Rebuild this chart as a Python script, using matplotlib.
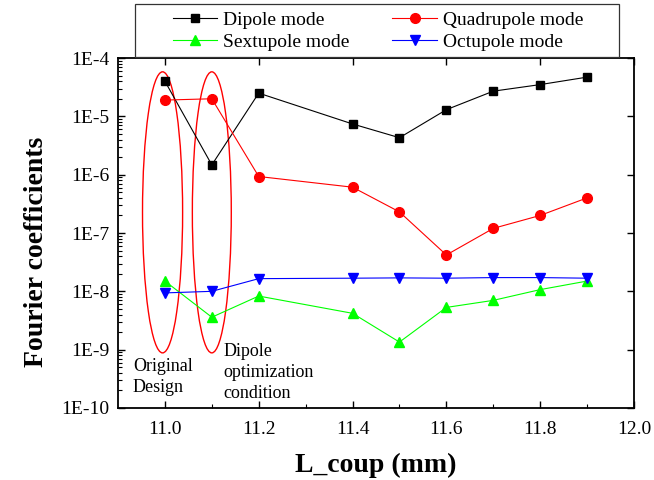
import numpy as np
import matplotlib
matplotlib.use("Agg")
from matplotlib import pyplot as plt
from matplotlib.patches import Ellipse, Rectangle
from matplotlib.transforms import blended_transform_factory

plt.rcParams['font.family'] = ['Liberation Serif', 'DejaVu Serif']

# L_coup (mm)
l_coup = [11.0, 11.1, 11.2, 11.4, 11.5, 11.6, 11.7, 11.8, 11.9]

# Fourier coefficients per mode
dipolo = [4.0e-5, 1.47e-6, 2.5e-5, 7.4e-6, 4.3e-6, 1.3e-5, 2.7e-5, 3.5e-5, 4.7e-5]
cuadrupolo = [1.9e-5, 2.0e-5, 9.3e-7, 6.1e-7, 2.3e-7, 4.2e-8, 1.2e-7, 2.0e-7, 4.0e-7]
sextupolo = [1.5e-8, 3.6e-9, 8.3e-9, 4.2e-9, 1.35e-9, 5.3e-9, 7.0e-9, 1.07e-8, 1.5e-8]
octupolo = [9.4e-9, 1.0e-8, 1.65e-8, 1.68e-8, 1.7e-8, 1.68e-8, 1.72e-8, 1.72e-8, 1.68e-8]

ytick_vals = [1e-10, 1e-9, 1e-8, 1e-7, 1e-6, 1e-5, 1e-4]
ytick_txt = ['1E-10', '1E-9', '1E-8', '1E-7', '1E-6', '1E-5', '1E-4']
xtick_vals = [11.0, 11.2, 11.4, 11.6, 11.8, 12.0]


def main():
    fig = plt.figure(figsize=(6.54, 4.8), dpi=100)
    ax = fig.add_axes([118/654, 72/480, 516/654, 350/480])

    l1, = ax.plot(l_coup, dipolo, '-s', color='black', lw=0.8, ms=6, label='Dipole mode')
    l2, = ax.plot(l_coup, cuadrupolo, '-o', color='red', lw=0.8, ms=7, label='Quadrupole mode')
    l3, = ax.plot(l_coup, sextupolo, '-^', color='#00ff00', lw=0.8, ms=7, label='Sextupole mode')
    l4, = ax.plot(l_coup, octupolo, '-v', color='blue', lw=0.8, ms=7, label='Octupole mode')

    ax.set_yscale('log')
    ax.set_ylim(1e-10, 1e-4)
    ax.set_xlim(10.9, 12.0)
    ax.set_yticks(ytick_vals)
    ax.set_yticklabels(ytick_txt)
    ax.set_xticks(xtick_vals)
    ax.set_xticklabels(['%.1f' % v for v in xtick_vals])
    ax.set_xticks(np.arange(11.1, 12.0, 0.2), minor=True)

    ax.tick_params(which='major', direction='in', length=5, width=1,
                   labelsize=14, top=True, right=True, pad=6)
    ax.tick_params(axis='x', which='major', pad=9)
    ax.tick_params(which='minor', direction='in', length=3, width=0.8)
    ax.tick_params(axis='x', which='minor', top=False)
    ax.tick_params(axis='y', which='minor', right=False)
    for s in ax.spines.values():
        s.set_linewidth(1.3)

    ax.set_xlabel('L_coup (mm)', fontsize=20, fontweight='bold')
    ax.xaxis.set_label_coords(0.5, -0.128)
    ax.set_ylabel('Fourier coefficients', fontsize=20, fontweight='bold')
    ax.yaxis.set_label_coords(-0.133, 0.446)

    # elipses
    tr = blended_transform_factory(ax.transData, ax.transAxes)
    ax.add_patch(Ellipse((10.995, 0.559), 0.0855, 0.803, transform=tr,
                         fill=False, edgecolor='red', lw=1))
    ax.add_patch(Ellipse((11.1, 0.559), 0.083, 0.803, transform=tr,
                         fill=False, edgecolor='red', lw=1))

    ax.text(10.932, 0.143, 'Original\nDesign', transform=tr, ha='left', va='top',
            fontsize=13, linespacing=1.3)
    ax.text(11.125, 0.186, 'Dipole\noptimization\ncondition', transform=tr,
            ha='left', va='top', fontsize=13, linespacing=1.3)

    # caja de la leyenda
    fig.patches.append(Rectangle((135/654, 423/480), 484/654, 53/480,
                                 transform=fig.transFigure, fill=True,
                                 facecolor='white', edgecolor='#333333',
                                 lw=0.9, zorder=5))
    leg = fig.legend([l1, l3, l2, l4],
                     ['Dipole mode', 'Sextupole mode', 'Quadrupole mode', 'Octupole mode'],
                     loc='center', ncol=2, bbox_to_anchor=(378/654, 449/480),
                     fontsize=14, frameon=False, handlelength=2.3,
                     handletextpad=0.3, columnspacing=2.2, labelspacing=0.25,
                     borderpad=0)
    leg.set_zorder(6)

    fig.savefig('out.png', dpi=100)


if __name__ == "__main__":
    main()
